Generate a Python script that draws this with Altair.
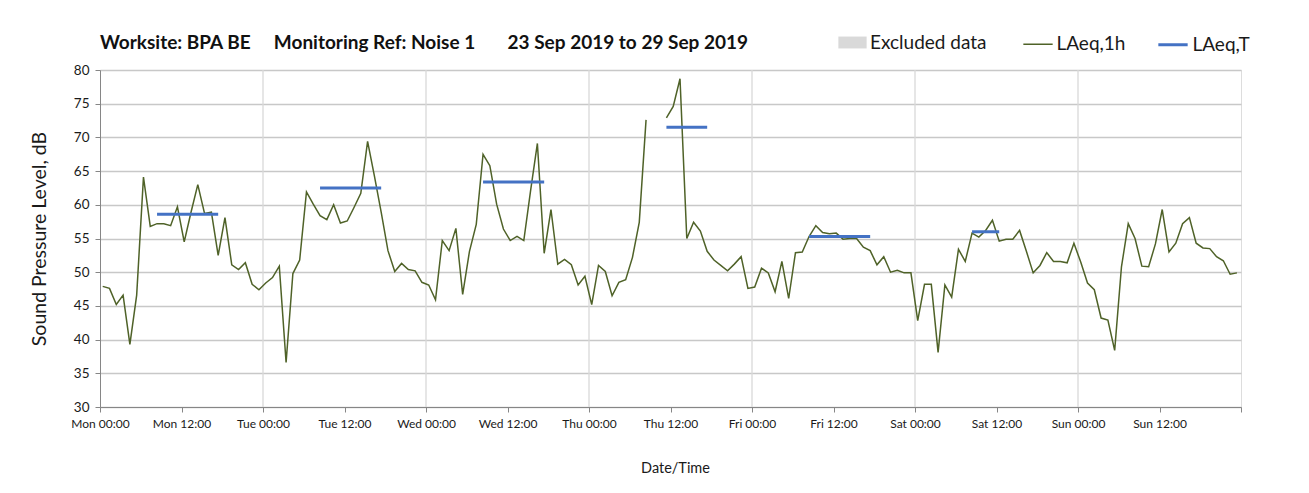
import altair as alt
import pandas as pd

# ---------------- data ----------------
FIRST_READING_HOUR = 0.4   # first hourly reading, hours after Mon 00:00

laeq_1h = [
    # Mon
    47.9, 47.6, 45.2, 46.6, 39.3, 46.6, 64.1, 56.8, 57.2, 57.2, 56.9, 59.7,
    54.5, 58.9, 63.0, 58.7, 58.9, 52.5, 58.1, 51.1, 50.4, 51.4, 48.2, 47.4,
    # Tue
    48.4, 49.2, 50.9, 36.6, 49.8, 51.8, 61.9, 60.1, 58.4, 57.8, 60.0, 57.3,
    57.6, 59.6, 61.7, 69.4, 64.3, 58.9, 53.2, 50.1, 51.3, 50.4, 50.2, 48.5,
    # Wed
    48.1, 45.9, 54.7, 53.2, 56.5, 46.7, 53.1, 57.1, 67.5, 65.8, 60.1, 56.4,
    54.7, 55.3, 54.7, 62.1, 69.1, 52.8, 59.3, 51.2, 51.9, 51.1, 48.1, 49.4,
    # Thu
    45.2, 51.0, 50.1, 46.5, 48.5, 48.9, 52.2, 57.4, 72.6, None, None, 72.9,
    74.6, 78.7, 55.0, 57.4, 56.1, 53.1, 51.8, 51.0, 50.2, 51.2, 52.3, 47.6,
    # Fri
    47.8, 50.6, 49.9, 47.1, 51.6, 46.1, 52.9, 53.0, 55.3, 56.9, 55.9, 55.7,
    55.8, 54.9, 55.0, 55.0, 53.7, 53.2, 51.1, 52.3, 50.0, 50.3, 49.9, 49.9,
    # Sat
    42.8, 48.2, 48.2, 38.1, 48.1, 46.3, 53.4, 51.6, 55.8, 55.2, 56.2, 57.7,
    54.6, 54.9, 54.9, 56.2, 53.1, 49.9, 51.0, 52.9, 51.6, 51.6, 51.4, 54.3,
    # Sun
    51.5, 48.4, 47.4, 43.2, 42.9, 38.4, 50.8, 57.2, 55.0, 50.9, 50.8, 54.2,
    59.3, 53.0, 54.3, 57.2, 58.1, 54.3, 53.6, 53.5, 52.3, 51.7, 49.7, 49.9,
]

# LAeq,T periods (first and last hourly reading index of each period)
laeq_t_start_idx = [8, 32, 56, 83, 104, 128]
laeq_t_end_idx = [17, 41, 65, 89, 113, 132]
laeq_t_values = [58.6, 62.5, 63.4, 71.5, 55.3, 56.0]

excluded_periods = []  # none in this week

day_names = ["Mon", "Tue", "Wed", "Thu", "Fri", "Sat", "Sun"]
day_boundaries_h = [24, 48, 72, 96, 120, 144]
x_tick_values = [0, 12, 24, 36, 48, 60, 72, 84, 96, 108, 120, 132, 144, 156, 168]
y_tick_values = [30, 35, 40, 45, 50, 55, 60, 65, 70, 75, 80]

title_text = ("Worksite: BPA BE" + "\u00a0" * 5 + "Monitoring Ref: Noise 1" + "\u00a0" * 7 +
              "23 Sep 2019 to 29 Sep 2019")

# ---------------- tables ----------------
rows = []
seg = 0
for i, v in enumerate(laeq_1h):
    if v is None:
        seg += 1
        continue
    rows.append({"h": i + FIRST_READING_HOUR, "v": v, "seg": seg, "series": "LAeq,1h"})
df_line = pd.DataFrame(rows)

df_t = pd.DataFrame({
    "h1": [s + FIRST_READING_HOUR for s in laeq_t_start_idx],
    "h2": [e + FIRST_READING_HOUR for e in laeq_t_end_idx],
    "v": laeq_t_values,
    "series": "LAeq,T",
})
df_grid = pd.DataFrame({"h": day_boundaries_h})
df_excl = pd.DataFrame({"h1": [p[0] for p in excluded_periods],
                        "h2": [p[1] for p in excluded_periods],
                        "kind": ["Excluded data" for _ in excluded_periods]})

FONT = "Lato"
GREEN = "#4F6228"
BLUE = "#4472C4"
TXT = "#1a1a1a"

day_js = "[" + ",".join("'%s'" % d for d in day_names) + "]"
label_expr = ("datum.value >= 168 ? '' : " + day_js +
              "[floor(datum.value / 24)] + ' ' + (datum.value % 24 == 0 ? '00:00' : '12:00')")

x_scale = alt.Scale(domain=[0, 168], nice=False, zero=False)
y_scale = alt.Scale(domain=[30, 80], nice=False, zero=False)

x_axis = alt.Axis(values=x_tick_values, labelExpr=label_expr, title="Date/Time",
                  grid=False, tickSize=5, labelPadding=6, labelFontSize=12,
                  titleFontSize=14.5, titlePadding=32, titleFontWeight="normal",
                  titleX=575, labelFont=FONT, titleFont=FONT, domainColor="#868686",
                  tickColor="#868686", labelColor=TXT, titleColor=TXT,
                  labelOverlap=False, labelFlush=False)
y_axis = alt.Axis(values=y_tick_values, title="Sound Pressure Level, dB",
                  grid=True, gridColor="#c8c8c8", gridWidth=1.3, tickSize=5,
                  labelPadding=6, labelFontSize=13.5, titleFontSize=19.5,
                  titlePadding=24, titleFontWeight="normal", labelFont=FONT,
                  titleFont=FONT, domainColor="#868686", tickColor="#868686",
                  labelColor=TXT, titleColor=TXT, labelOverlap=False,
                  labelFlush=False)

X = lambda f: alt.X(f, scale=x_scale, axis=x_axis)
Y = lambda f: alt.Y(f, scale=y_scale, axis=y_axis)

grid = alt.Chart(df_grid).mark_rule(color="#d9d9d9", strokeWidth=1.3).encode(
    x=X("h:Q"),
)

excl = alt.Chart(df_excl).mark_rect(opacity=1).encode(
    x=X("h1:Q"),
    x2="h2:Q",
    fill=alt.Fill("kind:N", scale=alt.Scale(domain=["Excluded data"], range=["#d9d9d9"]),
                  legend=alt.Legend(title=None, orient="none", legendX=738, legendY=-42,
                                    symbolType="M-1,-0.42H1V0.42H-1Z", symbolSize=800,
                                    symbolStrokeWidth=0, labelFontSize=19, labelFont=FONT,
                                    labelOffset=3, labelColor=TXT)),
)

series_scale = alt.Scale(domain=["LAeq,1h", "LAeq,T"], range=[GREEN, BLUE])
width_scale = alt.Scale(domain=["LAeq,1h", "LAeq,T"], range=[1.5, 3])
series_legend = alt.Legend(title=None, orient="none", legendX=922.5, legendY=-42,
                           direction="horizontal", symbolType="stroke", symbolSize=860,
                           labelFontSize=19, labelFont=FONT, labelOffset=3,
                           columnPadding=26, labelColor=TXT)

line = alt.Chart(df_line).mark_line().encode(
    x=X("h:Q"),
    y=Y("v:Q"),
    detail="seg:N",
    color=alt.Color("series:N", scale=series_scale, legend=series_legend),
    strokeWidth=alt.StrokeWidth("series:N", scale=width_scale, legend=series_legend),
)

lat = alt.Chart(df_t).mark_rule(strokeCap="butt").encode(
    x=X("h1:Q"),
    x2="h2:Q",
    y=Y("v:Q"),
    color=alt.Color("series:N", scale=series_scale, legend=series_legend),
    strokeWidth=alt.StrokeWidth("series:N", scale=width_scale, legend=series_legend),
)

chart = alt.layer(grid, excl, line, lat).properties(
    width=1141,
    height=337,
    title=alt.TitleParams(title_text, anchor="start", frame="group", fontSize=19,
                          font=FONT, fontWeight="bold", color="#111111", offset=-25),
    autosize=alt.AutoSizeParams(type="none"),
    padding={"left": 92, "top": 62, "right": 58, "bottom": 76},
).configure_view(stroke="#a6a6a6", strokeWidth=1).configure(background="white")

chart.save("out.html", embed_options={"renderer": "svg", "actions": False})
